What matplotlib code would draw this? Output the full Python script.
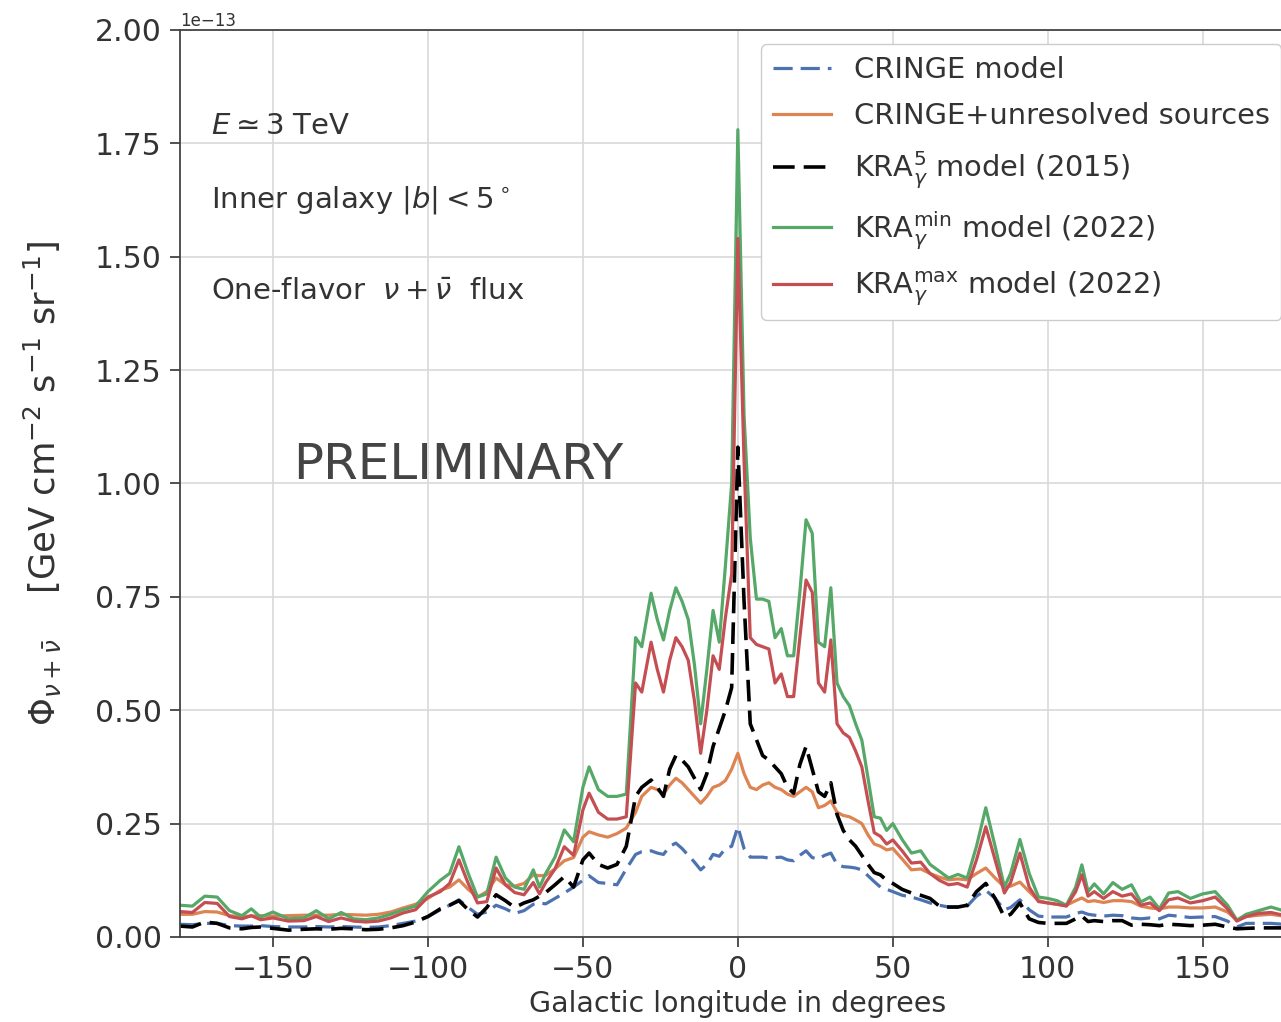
import numpy as np
import matplotlib
matplotlib.use("Agg")
import matplotlib.pyplot as plt

# galactic longitude grid (deg)
lon = [-180, -176, -172, -168, -164, -160, -157, -154, -150, -145,
       -140, -136, -132, -128, -124, -120, -116, -112, -108, -104,
       -100, -96, -93, -90, -87, -84, -81, -78, -75, -72,
       -69, -66, -64, -62, -59, -56, -53, -50, -48, -45,
       -42, -39, -36, -33, -31, -28, -26, -24, -22, -20,
       -18, -16, -14, -12, -10, -8, -6, -4, -2, 0,
       2, 4, 6, 8, 10, 12, 14, 16, 18, 20,
       22, 24, 26, 28, 30, 32, 34, 36, 38, 40,
       42, 44, 46, 48, 50, 53, 56, 59, 62, 65,
       68, 71, 74, 77, 80, 83, 86, 88, 91, 94,
       97, 100, 103, 106, 109, 111, 113, 115, 118, 121,
       124, 127, 130, 133, 136, 139, 142, 146, 150, 154,
       158, 161, 164, 168, 172, 176, 180]

# fluxes in units of 1e-13 GeV cm^-2 s^-1 sr^-1
cringe = [0.028, 0.027, 0.030, 0.030, 0.025, 0.024, 0.024, 0.025, 0.023, 0.022,
          0.022, 0.023, 0.022, 0.023, 0.022, 0.021, 0.022, 0.025, 0.030, 0.035,
          0.045, 0.060, 0.070, 0.082, 0.065, 0.050, 0.055, 0.070, 0.062, 0.052,
          0.058, 0.072, 0.075, 0.073, 0.085, 0.097, 0.110, 0.125, 0.135, 0.120,
          0.118, 0.115, 0.150, 0.182, 0.188, 0.190, 0.185, 0.182, 0.200, 0.207,
          0.195, 0.180, 0.165, 0.148, 0.160, 0.182, 0.178, 0.195, 0.200, 0.243,
          0.195, 0.176, 0.176, 0.176, 0.174, 0.175, 0.176, 0.170, 0.168, 0.180,
          0.190, 0.175, 0.172, 0.180, 0.185, 0.160, 0.155, 0.154, 0.152, 0.148,
          0.135, 0.122, 0.110, 0.105, 0.100, 0.092, 0.088, 0.082, 0.075, 0.070,
          0.066, 0.066, 0.068, 0.090, 0.103, 0.085, 0.060, 0.065, 0.082, 0.060,
          0.046, 0.044, 0.044, 0.044, 0.052, 0.055, 0.050, 0.048, 0.046, 0.048,
          0.047, 0.042, 0.040, 0.042, 0.040, 0.048, 0.046, 0.043, 0.044, 0.045,
          0.035, 0.022, 0.030, 0.030, 0.030, 0.028, 0.028]

cringe_unres = [0.050, 0.050, 0.056, 0.055, 0.047, 0.045, 0.046, 0.047, 0.046, 0.047,
                0.048, 0.048, 0.048, 0.050, 0.049, 0.048, 0.050, 0.055, 0.064, 0.072,
                0.085, 0.103, 0.110, 0.126, 0.105, 0.088, 0.100, 0.130, 0.115, 0.112,
                0.118, 0.137, 0.135, 0.136, 0.150, 0.168, 0.175, 0.220, 0.232, 0.225,
                0.220, 0.228, 0.240, 0.275, 0.310, 0.330, 0.325, 0.315, 0.335, 0.350,
                0.340, 0.325, 0.310, 0.295, 0.310, 0.330, 0.335, 0.345, 0.370, 0.405,
                0.360, 0.330, 0.325, 0.335, 0.340, 0.330, 0.325, 0.315, 0.310, 0.320,
                0.330, 0.320, 0.285, 0.290, 0.300, 0.275, 0.268, 0.265, 0.258, 0.250,
                0.225, 0.205, 0.200, 0.192, 0.195, 0.172, 0.148, 0.150, 0.140, 0.132,
                0.126, 0.128, 0.126, 0.140, 0.152, 0.130, 0.110, 0.112, 0.121, 0.100,
                0.080, 0.075, 0.072, 0.070, 0.080, 0.086, 0.078, 0.080, 0.076, 0.080,
                0.080, 0.078, 0.068, 0.064, 0.062, 0.066, 0.066, 0.064, 0.064, 0.066,
                0.055, 0.037, 0.045, 0.048, 0.050, 0.046, 0.047]

kra5 = [0.024, 0.022, 0.033, 0.030, 0.020, 0.018, 0.021, 0.022, 0.019, 0.015,
        0.017, 0.018, 0.017, 0.019, 0.018, 0.016, 0.017, 0.020, 0.025, 0.033,
        0.045, 0.062, 0.070, 0.080, 0.060, 0.044, 0.065, 0.093, 0.080, 0.065,
        0.075, 0.082, 0.090, 0.098, 0.115, 0.133, 0.110, 0.170, 0.185, 0.160,
        0.152, 0.160, 0.200, 0.310, 0.330, 0.346, 0.330, 0.310, 0.370, 0.400,
        0.390, 0.375, 0.350, 0.325, 0.360, 0.420, 0.460, 0.500, 0.550, 1.080,
        0.740, 0.470, 0.435, 0.400, 0.390, 0.375, 0.360, 0.330, 0.317, 0.380,
        0.420, 0.370, 0.320, 0.310, 0.340, 0.270, 0.235, 0.214, 0.200, 0.180,
        0.160, 0.142, 0.137, 0.125, 0.118, 0.105, 0.097, 0.092, 0.085, 0.068,
        0.066, 0.066, 0.070, 0.100, 0.118, 0.085, 0.044, 0.050, 0.075, 0.040,
        0.032, 0.030, 0.030, 0.030, 0.040, 0.046, 0.034, 0.036, 0.034, 0.036,
        0.036, 0.026, 0.028, 0.027, 0.025, 0.028, 0.027, 0.025, 0.026, 0.028,
        0.022, 0.018, 0.019, 0.020, 0.020, 0.020, 0.020]

kra_min = [0.070, 0.068, 0.090, 0.088, 0.058, 0.047, 0.062, 0.044, 0.055, 0.040,
           0.042, 0.058, 0.040, 0.054, 0.040, 0.038, 0.042, 0.050, 0.060, 0.068,
           0.100, 0.125, 0.140, 0.199, 0.140, 0.088, 0.095, 0.176, 0.130, 0.110,
           0.105, 0.148, 0.110, 0.140, 0.176, 0.236, 0.210, 0.330, 0.375, 0.325,
           0.310, 0.310, 0.315, 0.660, 0.640, 0.758, 0.700, 0.655, 0.720, 0.770,
           0.740, 0.700, 0.600, 0.470, 0.590, 0.720, 0.650, 0.820, 1.000, 1.780,
           1.150, 0.880, 0.745, 0.745, 0.740, 0.660, 0.680, 0.620, 0.620, 0.760,
           0.920, 0.890, 0.650, 0.640, 0.770, 0.560, 0.530, 0.510, 0.470, 0.434,
           0.350, 0.265, 0.262, 0.235, 0.250, 0.215, 0.185, 0.190, 0.160, 0.145,
           0.130, 0.138, 0.130, 0.200, 0.285, 0.200, 0.110, 0.140, 0.215, 0.140,
           0.088, 0.085, 0.080, 0.070, 0.110, 0.159, 0.100, 0.117, 0.095, 0.120,
           0.105, 0.115, 0.077, 0.088, 0.062, 0.097, 0.100, 0.085, 0.095, 0.100,
           0.070, 0.037, 0.050, 0.058, 0.066, 0.058, 0.060]

kra_max = [0.056, 0.054, 0.076, 0.074, 0.045, 0.040, 0.047, 0.038, 0.042, 0.035,
           0.036, 0.045, 0.034, 0.042, 0.035, 0.033, 0.035, 0.042, 0.053, 0.060,
           0.088, 0.100, 0.118, 0.170, 0.118, 0.075, 0.078, 0.152, 0.115, 0.098,
           0.093, 0.120, 0.095, 0.120, 0.150, 0.199, 0.180, 0.280, 0.317, 0.275,
           0.260, 0.260, 0.265, 0.560, 0.540, 0.650, 0.590, 0.540, 0.610, 0.660,
           0.640, 0.610, 0.520, 0.405, 0.500, 0.620, 0.590, 0.705, 0.800, 1.540,
           1.050, 0.660, 0.645, 0.640, 0.635, 0.560, 0.580, 0.530, 0.530, 0.660,
           0.787, 0.760, 0.560, 0.540, 0.655, 0.470, 0.450, 0.440, 0.410, 0.375,
           0.300, 0.230, 0.222, 0.205, 0.214, 0.190, 0.163, 0.165, 0.140, 0.125,
           0.115, 0.118, 0.110, 0.170, 0.243, 0.170, 0.097, 0.120, 0.185, 0.110,
           0.078, 0.075, 0.072, 0.068, 0.100, 0.137, 0.090, 0.100, 0.085, 0.100,
           0.090, 0.095, 0.070, 0.075, 0.058, 0.082, 0.086, 0.075, 0.080, 0.088,
           0.062, 0.035, 0.045, 0.052, 0.054, 0.048, 0.050]

scale = 1e-13
x = np.array(lon)

plt.rcParams['font.size'] = 21
plt.rcParams['text.color'] = '#333333'
plt.rcParams['axes.labelcolor'] = '#333333'
plt.rcParams['xtick.color'] = '#333333'
plt.rcParams['ytick.color'] = '#333333'
plt.rcParams['mathtext.fontset'] = 'dejavusans'

fig = plt.figure(figsize=(12.81, 10.22), dpi=100)
ax = fig.add_axes([0.1405, 0.0832, 0.871, 0.8875])

lw = 2.3
dash = (6, 2.5)
ax.plot(x, np.array(cringe) * scale, '--', dashes=dash, color='#4C72B0', lw=lw, label='CRINGE model')
ax.plot(x, np.array(cringe_unres) * scale, '-', color='#DD8452', lw=lw, label='CRINGE+unresolved sources')
ax.plot(x, np.array(kra5) * scale, '--', dashes=dash, color='black', lw=lw + 0.3, label=r'KRA$_\gamma^5$ model (2015)')
ax.plot(x, np.array(kra_min) * scale, '-', color='#55A868', lw=lw, label=r'KRA$_\gamma^{\rm min}$ model (2022)')
ax.plot(x, np.array(kra_max) * scale, '-', color='#C44E52', lw=lw, label=r'KRA$_\gamma^{\rm max}$ model (2022)')

ax.set_xlim(-180, 180)
ax.set_ylim(0, 2e-13)
ax.set_xticks([-150, -100, -50, 0, 50, 100, 150])
ax.grid(True, color='#d9d9d9', lw=1.2)
ax.set_axisbelow(True)
ax.tick_params(length=7, width=1.2, pad=6, labelsize=21.5)
for s in ax.spines.values():
    s.set_color('#444444')
    s.set_linewidth(1.3)
ax.yaxis.get_offset_text().set_fontsize(12)

ax.set_xlabel('Galactic longitude in degrees', fontsize=20.5, labelpad=4)
ax.set_ylabel(r'$\Phi_{\nu+\bar{\nu}}$    [GeV cm$^{-2}$ s$^{-1}$ sr$^{-1}$]', fontsize=25.5, labelpad=22)

ax.text(-170, 1.82e-13, r'$E \simeq 3$ TeV', fontsize=21, va='top')
ax.text(-170, 1.625e-13, r'Inner galaxy $|b| < 5^\circ$', fontsize=21, va='center')
ax.text(-170, 1.425e-13, r'One-flavor  $\nu + \bar{\nu}$  flux', fontsize=21, va='center')
ax.text(-143.5, 1.04e-13, 'PRELIMINARY', fontsize=36, va='center', color='#444444')

leg = ax.legend(loc='upper right', fontsize=20.8, framealpha=1.0, edgecolor='#cccccc',
                labelspacing=0.64)

fig.savefig('out.png', dpi=100)
